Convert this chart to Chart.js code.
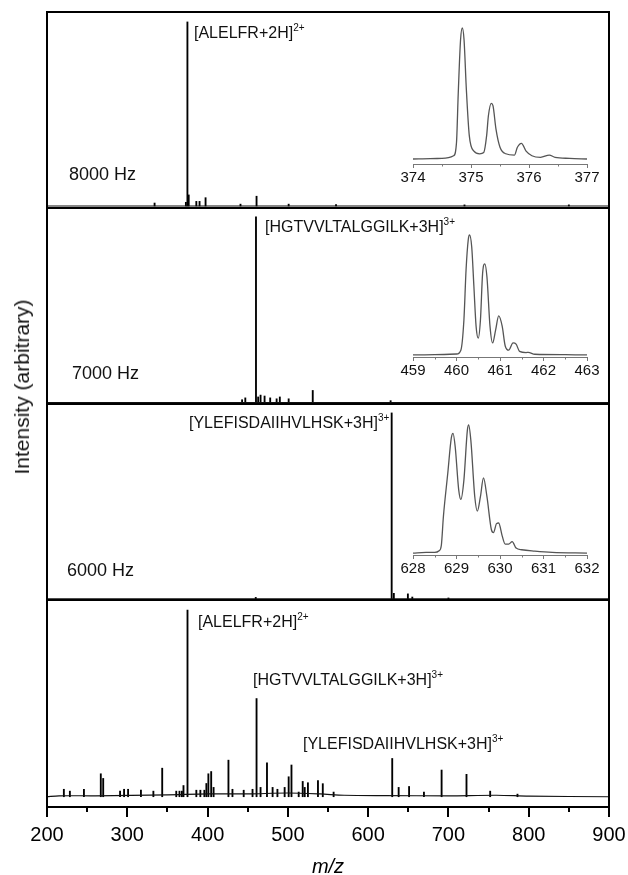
<!DOCTYPE html>
<html>
<head>
<meta charset="utf-8">
<script src="https://cdn.jsdelivr.net/npm/chart.js@4.4.0/dist/chart.umd.min.js"></script>
<style>
  body { margin:0; background:#fff; width:628px; height:875px; position:relative; overflow:hidden;
         font-family:"Liberation Sans", Arial, sans-serif; color:#111; }
  canvas { position:absolute; }
  .lbl { position:absolute; font-size:16px; line-height:16px; white-space:nowrap; }
  .lbl sup { font-size:10px; line-height:0; vertical-align:7px; }
  .hz { position:absolute; font-size:18px; line-height:18px; white-space:nowrap; }
  #ytitle { position:absolute; left:22px; top:387px; font-size:21px; white-space:nowrap;
            transform:translate(-50%,-50%) rotate(-90deg); }
</style>
</head>
<body>
<canvas id="p8000" width="628" height="198" style="left:0;top:11px"></canvas>
<canvas id="p7000" width="628" height="198" style="left:0;top:207px"></canvas>
<canvas id="p6000" width="628" height="198" style="left:0;top:403px"></canvas>
<canvas id="pmix" width="628" height="276" style="left:0;top:599px"></canvas>
<canvas id="in8000" width="214" height="162" style="left:393px;top:24px"></canvas>
<canvas id="in7000" width="214" height="148" style="left:393px;top:231px"></canvas>
<canvas id="in6000" width="214" height="156" style="left:393px;top:421px"></canvas>

<div class="lbl" style="left:194px;top:25px">[ALELFR+2H]<sup>2+</sup></div>
<div class="lbl" style="left:265px;top:219px">[HGTVVLTALGGILK+3H]<sup>3+</sup></div>
<div class="lbl" style="left:189px;top:415px">[YLEFISDAIIHVLHSK+3H]<sup>3+</sup></div>
<div class="lbl" style="left:198px;top:614px">[ALELFR+2H]<sup>2+</sup></div>
<div class="lbl" style="left:253px;top:672px">[HGTVVLTALGGILK+3H]<sup>3+</sup></div>
<div class="lbl" style="left:303px;top:736px">[YLEFISDAIIHVLHSK+3H]<sup>3+</sup></div>
<div class="hz" style="left:69px;top:165px">8000 Hz</div>
<div class="hz" style="left:72px;top:364px">7000 Hz</div>
<div class="hz" style="left:67px;top:561px">6000 Hz</div>
<div id="ytitle">Intensity (arbitrary)</div>

<script>
// m/z axis
const mzTicks = [200, 300, 400, 500, 600, 700, 800, 900];
const mzMinor = [250, 350, 450, 550, 650, 750, 850];

// 8000 Hz trace (peaks, relative intensity)
const mz8000 = [334, 373, 374.9, 376.5, 386, 390, 397.5, 441, 461, 501, 560, 720, 850];
const int8000 = [1.6, 2, 100, 6, 2.5, 2.5, 4.5, 1, 5.3, 1, 0.8, 0.6, 0.6];

// 7000 Hz trace
const mz7000 = [443, 447, 460.3, 463, 466, 471, 478, 486, 490, 501, 531, 628];
const int7000 = [1.5, 2.5, 100, 3, 4, 3.5, 2.5, 2, 3, 2, 6.5, 1];

// 6000 Hz trace
const mz6000 = [460, 629.3, 632, 649.5, 655, 700];
const int6000 = [0.8, 100, 3, 2.7, 1, 0.5];

// mixture (bottom) trace
const mzMix = [221, 228.5, 246, 267, 270, 291, 296, 301, 317, 332.5,
  343.5, 361, 365, 368, 370, 375, 386, 391, 396, 398.5,
  401, 404.5, 407.5, 426, 431, 445, 456, 461, 466, 474,
  481, 487, 496, 501, 504.5, 513.5, 518.5, 521, 525, 537.5,
  543.5, 557, 630, 638, 651, 669.5, 691.5, 722.5, 752, 786];
const intMix = [4, 3, 4, 12.3, 9.8, 3, 4, 4, 3.5, 3,
  15.3, 3, 3, 3, 6, 100, 3.5, 3.5, 3.5, 7.1,
  12.3, 13.5, 5, 19.6, 4, 3.5, 4, 52.6, 5, 18.2,
  5, 4, 5, 10.7, 17, 2.5, 8.2, 5, 7.5, 8.6,
  7, 2.5, 20.5, 5, 5.5, 2.5, 14.3, 12, 3, 1.4];

// baselines
const baseFlatX = [200, 900];
const baseFlatY = [0, 0];
const baseMixX = [200, 215, 260, 350, 400, 450, 500, 540, 570, 620, 700, 760, 800, 900];
const baseMixY = [0, 0.5, 0.5, 1, 1.5, 1.5, 2, 1.5, 0.8, 0.6, 0.5, 0.8, 0.3, 0];

// insets (isotope envelopes)
const in8000Mz = [374.0, 374.3, 374.5, 374.7, 374.75, 374.78, 374.82, 374.85, 374.88, 374.92, 374.97,
  375.05, 375.15, 375.22, 375.27, 375.3, 375.35, 375.38, 375.43, 375.5, 375.6, 375.75, 375.8,
  375.87, 375.95, 376.05, 376.2, 376.35, 376.45, 376.7, 377.0];
const in8000Int = [0, 0.3, 0.5, 2.5, 12.6, 50, 91, 100, 91, 53, 18,
  6, 4, 5, 18, 33, 42.5, 40.5, 23, 9, 4, 3, 9,
  12, 6, 2.5, 1.3, 3, 1.3, 0.5, 0];
const in8000Ticks = [374, 375, 376, 377];

const in7000Mz = [459.0, 459.5, 460.0, 460.1, 460.17, 460.22, 460.27, 460.3, 460.35, 460.4, 460.45,
  460.5, 460.55, 460.6, 460.65, 460.7, 460.77, 460.83, 460.9, 460.97, 461.05, 461.12, 461.2,
  461.3, 461.37, 461.45, 461.6, 461.65, 461.8, 462.5, 463.0];
const in7000Int = [0, 0.3, 0.8, 4, 29, 71, 96, 100, 90, 57, 24,
  14, 29, 68, 76, 65, 24, 10, 21, 32.5, 24, 7.5, 4,
  10, 9, 3, 2, 2.2, 0.6, 0.3, 0];
const in7000Ticks = [459, 460, 461, 462, 463];

const in6000Mz = [628.0, 628.3, 628.5, 628.6, 628.65, 628.7, 628.8, 628.88, 628.92, 628.97, 629.05,
  629.1, 629.17, 629.25, 629.28, 629.33, 629.42, 629.48, 629.55, 629.62, 629.7, 629.8, 629.85,
  629.92, 629.97, 630.05, 630.12, 630.2, 630.28, 630.37, 630.5, 630.8, 631.2, 632.0];
const in6000Int = [0, 0.5, 0.5, 1.8, 5.7, 29, 62.5, 89.7, 93.5, 83, 49.6,
  41.9, 57, 96, 100, 88, 44, 32.8, 44, 58.7, 44, 18.6, 16,
  23, 23.5, 13.4, 7, 7, 9, 3.9, 2.6, 1.5, 0.5, 0];
const in6000Ticks = [628, 629, 630, 631, 632];

const FONT = '"Liberation Sans", Arial, sans-serif';

// draws the panel frame (left, right, top) and minor ticks on the x axis
const framePlugin = {
  id: 'frame',
  afterDraw(chart, args, opts) {
    const ctx = chart.ctx, a = chart.chartArea;
    if (opts.box) {
      ctx.save();
      ctx.fillStyle = '#000';
      ctx.fillRect(a.left - 1, a.top - 1, 2, a.bottom - a.top + 2);
      ctx.fillRect(a.right - 1, a.top - 1, 2, a.bottom - a.top + 2);
      ctx.fillRect(a.left - 1, a.top - 1, a.right - a.left + 2, 2);
      ctx.restore();
    }
    if (opts.minor) {
      const sx = chart.scales.x;
      ctx.save();
      ctx.strokeStyle = opts.minorColor;
      ctx.lineWidth = opts.minorWidth;
      opts.minor.forEach(v => {
        const px = Math.round(sx.getPixelForValue(v)) + (opts.minorWidth % 2 ? 0.5 : 0);
        ctx.beginPath();
        ctx.moveTo(px, sx.top);
        ctx.lineTo(px, sx.top + opts.minorLen);
        ctx.stroke();
      });
      ctx.restore();
    }
  }
};

function panel(id, mz, inten, bx, by, yMin, yMax, bottom) {
  const xScale = {
    type: 'linear', min: 200, max: 900, offset: false, display: bottom,
    afterBuildTicks: s => { s.ticks = mzTicks.map(v => ({ value: v })); },
    afterFit: s => { if (bottom) { s.height = 68; s.paddingLeft = 0; s.paddingRight = 0; } },
    ticks: { color: '#000', font: { family: FONT, size: 20 }, padding: 6, maxRotation: 0, autoSkip: false },
    grid: { drawOnChartArea: false, drawTicks: true, tickLength: 10, color: '#000', lineWidth: 2, offset: false },
    border: { display: true, color: '#000', width: 2 },
    title: { display: true, text: 'm/z', color: '#000', padding: 0,
             font: { family: FONT, size: 20, style: 'italic', lineHeight: 0.8 } }
  };
  return new Chart(document.getElementById(id), {
    type: 'bar',
    data: {
      datasets: [
        { type: 'bar', data: mz.map((m, i) => ({ x: m, y: inten[i] })),
          backgroundColor: '#000', barThickness: 1.2, order: 2 },
        { type: 'line', data: bx.map((m, i) => ({ x: m, y: by[i] })),
          borderColor: '#111', borderWidth: 1.2, pointRadius: 0, tension: 0.3, order: 1 }
      ]
    },
    options: {
      responsive: false, animation: false,
      layout: { padding: { left: 47, right: 19, top: 1, bottom: bottom ? 0 : 1 } },
      plugins: {
        legend: { display: false }, tooltip: { enabled: false },
        frame: bottom ? { box: true, minor: mzMinor, minorLen: 5, minorColor: '#000', minorWidth: 2 } : { box: true }
      },
      scales: { x: xScale, y: { min: yMin, max: yMax, display: false } }
    },
    plugins: [framePlugin]
  });
}

function inset(id, mz, inten, ticks, yMin) {
  const lo = ticks[0], hi = ticks[ticks.length - 1];
  const minor = ticks.slice(0, -1).map(t => t + 0.5);
  return new Chart(document.getElementById(id), {
    type: 'line',
    data: { datasets: [{ data: mz.map((m, i) => ({ x: m, y: inten[i] })),
      borderColor: '#555', borderWidth: 1.3, pointRadius: 0,
      cubicInterpolationMode: 'monotone', clip: false }] },
    options: {
      responsive: false, animation: false,
      layout: { padding: { left: 20, right: 20, top: 4, bottom: 0 } },
      plugins: { legend: { display: false }, tooltip: { enabled: false },
        frame: { minor: minor, minorLen: 2.5, minorColor: '#777', minorWidth: 1 } },
      scales: {
        x: { type: 'linear', min: lo, max: hi,
             afterBuildTicks: s => { s.ticks = ticks.map(v => ({ value: v })); },
             afterFit: s => { s.height = 22; s.paddingLeft = 0; s.paddingRight = 0; },
             ticks: { color: '#111', font: { family: FONT, size: 15 }, padding: 1, maxRotation: 0, autoSkip: false },
             grid: { drawOnChartArea: false, drawTicks: true, tickLength: 4, color: '#777', lineWidth: 1 },
             border: { display: true, color: '#777', width: 1 } },
        y: { min: yMin, max: 100, display: false }
      }
    },
    plugins: [framePlugin]
  });
}

panel('p8000', mz8000, int8000, baseFlatX, baseFlatY, -1.1, 105.4, false);
panel('p7000', mz7000, int7000, baseFlatX, baseFlatY, -0.8, 104.8, false);
panel('p6000', mz6000, int6000, baseFlatX, baseFlatY, -0.6, 104.8, false);
panel('pmix', mzMix, intMix, baseMixX, baseMixY, -5.5, 105.4, true);

inset('in8000', in8000Mz, in8000Int, in8000Ticks, -3.8);
inset('in7000', in7000Mz, in7000Int, in7000Ticks, -1.7);
inset('in6000', in6000Mz, in6000Int, in6000Ticks, -1.5);
</script>
</body>
</html>
